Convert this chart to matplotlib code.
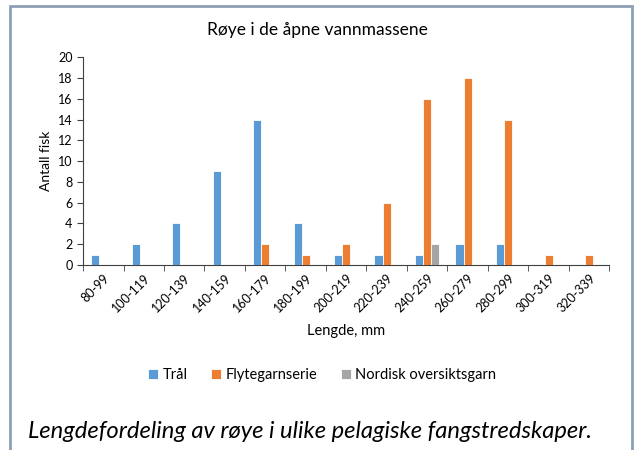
import numpy as np
import matplotlib.pyplot as plt
from matplotlib.patches import Rectangle

plt.rcParams['font.family'] = ['Lato', 'DejaVu Sans']

lengths = ['80-99', '100-119', '120-139', '140-159', '160-179', '180-199', '200-219',
           '220-239', '240-259', '260-279', '280-299', '300-319', '320-339']
traal = [1, 2, 4, 9, 14, 4, 1, 1, 1, 2, 2, 0, 0]
flytegarn = [0, 0, 0, 0, 2, 1, 2, 6, 16, 18, 14, 1, 1]
nordisk = [0, 0, 0, 0, 0, 0, 0, 0, 2, 0, 0, 0, 0]

series = [('Trål', traal, '#5B9BD5'),
          ('Flytegarnserie', flytegarn, '#ED7D31'),
          ('Nordisk oversiktsgarn', nordisk, '#A5A5A5')]

fig = plt.figure(figsize=(6.34, 4.5), dpi=100)
ax = fig.add_axes([0.131, 0.411, 0.83, 0.462])

x = np.arange(len(lengths))
w = 0.2
for i, (name, vals, col) in enumerate(series):
    ax.bar(x + (i - 1) * w, vals, width=w, color=col, edgecolor='#FFFFFF', linewidth=0.6,
           label=name, zorder=3)

ax.set_xlim(-0.5, len(lengths) - 0.5)
ax.set_ylim(0, 20)
ax.set_yticks(range(0, 21, 2))
ax.set_xticks(x)
ax.set_xticklabels(lengths, rotation=45, ha='right', rotation_mode='anchor', fontsize=9)
ax.set_xticks(np.arange(-0.5, len(lengths)), minor=True)
ax.tick_params(axis='x', which='major', length=0, pad=5)
ax.tick_params(axis='x', which='minor', length=4, color='#404040', direction='out')
ax.tick_params(axis='y', length=4, color='#404040', labelsize=9, direction='out')
for s in ['top', 'right']:
    ax.spines[s].set_visible(False)
ax.spines['left'].set_color('#404040')
ax.spines['bottom'].set_color('#404040')

# tittelen står midt på figuren, ikke midt over aksene
fig.text(0.5, 0.933, 'Røye i de åpne vannmassene', fontsize=12.5, ha='center', va='center')
ax.set_ylabel('Antall fisk', fontsize=10)
ax.set_xlabel('Lengde, mm', fontsize=10.5, labelpad=7)

fig.legend(loc='center', bbox_to_anchor=(0.508, 0.167), ncol=3, frameon=False, fontsize=10.5,
           handlelength=0.7, handleheight=0.7, handletextpad=0.3, columnspacing=1.6)

fig.text(0.044, 0.045, 'Lengdefordeling av røye i ulike pelagiske fangstredskaper.',
         fontsize=17.1, style='italic', ha='left', va='center_baseline')

fig.patches.append(Rectangle((10 / 634, -0.05), 622 / 634, 1.05 - 6 / 450,
                             transform=fig.transFigure, fill=False, edgecolor='#8EA0B5',
                             linewidth=2))

fig.savefig('out.png', dpi=100)
